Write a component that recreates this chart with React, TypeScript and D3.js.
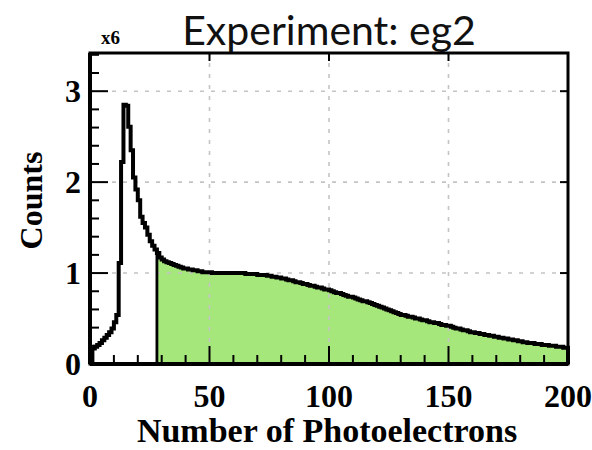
import React from "react";
import * as d3 from "d3";

// Histogram: bin i covers [i, i+1) photoelectrons, counts in units of 1e6
const counts: number[] = [
  0.0, 0.17, 0.19, 0.21, 0.23, 0.26, 0.29, 0.32, 0.35, 0.39,
  0.46, 0.54, 1.11, 2.22, 2.85, 2.84, 2.61, 2.35, 2.05, 1.92,
  1.8, 1.62, 1.55, 1.5, 1.42, 1.35, 1.3, 1.26, 1.22, 1.17,
  1.15, 1.13, 1.12, 1.11, 1.1, 1.09, 1.08, 1.07, 1.06, 1.05,
  1.05, 1.04, 1.04, 1.03, 1.03, 1.02, 1.02, 1.01, 1.01, 1.01,
  1.01, 1.0, 1.0, 1.0, 1.0, 1.0, 1.0, 1.0, 1.0, 1.0,
  1.0, 1.0, 1.0, 1.0, 1.0, 0.99, 0.99, 0.99, 0.99, 0.99,
  0.98, 0.98, 0.98, 0.98, 0.97, 0.97, 0.96, 0.96, 0.95, 0.95,
  0.94, 0.94, 0.93, 0.92, 0.92, 0.91, 0.9, 0.9, 0.89, 0.88,
  0.88, 0.87, 0.86, 0.86, 0.85, 0.84, 0.84, 0.83, 0.82, 0.82,
  0.81, 0.8, 0.79, 0.78, 0.78, 0.77, 0.76, 0.75, 0.74, 0.74,
  0.73, 0.72, 0.71, 0.7, 0.69, 0.69, 0.68, 0.67, 0.66, 0.65,
  0.64, 0.63, 0.62, 0.61, 0.6, 0.59, 0.58, 0.57, 0.56, 0.55,
  0.54, 0.54, 0.53, 0.52, 0.52, 0.51, 0.5, 0.5, 0.49, 0.48,
  0.48, 0.47, 0.46, 0.46, 0.45, 0.45, 0.44, 0.43, 0.43, 0.42,
  0.42, 0.41, 0.4, 0.39, 0.39, 0.38, 0.37, 0.37, 0.36, 0.35,
  0.35, 0.34, 0.34, 0.33, 0.33, 0.32, 0.32, 0.31, 0.31, 0.3,
  0.3, 0.29, 0.29, 0.28, 0.28, 0.27, 0.27, 0.26, 0.26, 0.25,
  0.25, 0.24, 0.24, 0.23, 0.23, 0.23, 0.22, 0.22, 0.22, 0.21,
  0.21, 0.21, 0.2, 0.2, 0.2, 0.19, 0.19, 0.19, 0.18, 0.18,
];
const binWidth = 1;
const cutStart = 28; // start of the shaded region
const xDomain: [number, number] = [0, 200];
const yDomain: [number, number] = [0, 3.42];
const xMajorTicks = [0, 50, 100, 150, 200];
const yMajorTicks = [0, 1, 2, 3];
const xGrid = [50, 100, 150];
const yGrid = [1, 2, 3];
const title = "Experiment: eg2";
const xTitle = "Number of Photoelectrons";
const yTitle = "Counts";
const exponentLabel = "x6";

const W = 592;
const H = 450;
const L = 90, R = 568, T = 53, B = 364;

export default function App() {
  const x = d3.scaleLinear().domain(xDomain).range([L, R]);
  const y = d3.scaleLinear().domain(yDomain).range([B, T]);

  const outline = d3.path();
  outline.moveTo(x(0), y(0));
  counts.forEach((v, i) => {
    outline.lineTo(x(i * binWidth), y(v));
    outline.lineTo(x((i + 1) * binWidth), y(v));
  });
  outline.lineTo(x(counts.length * binWidth), y(0));

  const fill = d3.path();
  fill.moveTo(x(cutStart), y(0));
  counts.forEach((v, i) => {
    if (i * binWidth < cutStart) return;
    fill.lineTo(x(i * binWidth), y(v));
    fill.lineTo(x((i + 1) * binWidth), y(v));
  });
  fill.lineTo(x(counts.length * binWidth), y(0));
  fill.closePath();

  const cutVal = counts[Math.floor(cutStart / binWidth)];

  const xMinor = d3.range(0, 201, 10).filter((t) => t % 50 !== 0);
  const yMinor = d3.range(0, 3.41, 0.2).filter((t) => Math.abs(t - Math.round(t)) > 1e-6);

  const serif = "'Liberation Serif', 'Times New Roman', serif";

  return (
    <svg width={W} height={H} style={{ position: "absolute", left: 0, top: 0, background: "#fff" }}>
      <rect x={0} y={0} width={W} height={H} fill="#fff" />
      <path d={fill.toString()} fill="#a6e77b" stroke="none" />
      {xGrid.map((t) => (
        <line key={"gx" + t} x1={x(t)} x2={x(t)} y1={B} y2={T} stroke="#c4c4c4" strokeWidth={1.6} strokeDasharray="4,7" />
      ))}
      {yGrid.map((t) => (
        <line key={"gy" + t} x1={L} x2={R} y1={y(t)} y2={y(t)} stroke="#c4c4c4" strokeWidth={1.6} strokeDasharray="4,7" />
      ))}
      <line x1={x(cutStart)} x2={x(cutStart)} y1={y(0)} y2={y(cutVal)} stroke="#000" strokeWidth={2.8} />
      <path d={outline.toString()} fill="none" stroke="#000" strokeWidth={4} strokeLinejoin="miter" />
      {xMajorTicks.map((t) => (
        <line key={"xM" + t} x1={x(t)} x2={x(t)} y1={B} y2={B - 18} stroke="#000" strokeWidth={2} />
      ))}
      {xMinor.map((t) => (
        <line key={"xm" + t} x1={x(t)} x2={x(t)} y1={B} y2={B - 9} stroke="#000" strokeWidth={2} />
      ))}
      {xGrid.map((t) => (
        <line key={"xt" + t} x1={x(t)} x2={x(t)} y1={T} y2={T + 8} stroke="#000" strokeWidth={2} />
      ))}
      {yMajorTicks.map((t) => (
        <line key={"yM" + t} x1={L} x2={L + 18} y1={y(t)} y2={y(t)} stroke="#000" strokeWidth={2} />
      ))}
      {yMinor.map((t) => (
        <line key={"ym" + t} x1={L} x2={L + 9} y1={y(t)} y2={y(t)} stroke="#000" strokeWidth={2} />
      ))}
      {yGrid.map((t) => (
        <line key={"yr" + t} x1={R} x2={R - 8} y1={y(t)} y2={y(t)} stroke="#000" strokeWidth={2} />
      ))}
      <rect x={L} y={T} width={R - L} height={B - T} fill="none" stroke="#000" strokeWidth={3} />
      <line x1={L} x2={L} y1={T} y2={B} stroke="#000" strokeWidth={4} />
      <line x1={L} x2={R} y1={B} y2={B} stroke="#000" strokeWidth={4} />
      {xMajorTicks.map((t) => (
        <text key={"xl" + t} x={x(t)} y={407} textAnchor="middle" fontFamily={serif} fontWeight="bold" fontSize={32} fill="#000">
          {t}
        </text>
      ))}
      {yMajorTicks.map((t) => (
        <text key={"yl" + t} x={81} y={y(t) + 11} textAnchor="end" fontFamily={serif} fontWeight="bold" fontSize={32} fill="#000">
          {t}
        </text>
      ))}
      <text x={(L + R) / 2 - 2} y={442} textAnchor="middle" fontFamily={serif} fontWeight="bold" fontSize={34} fill="#000">
        {xTitle}
      </text>
      <text transform={`translate(42, ${(T + B) / 2 - 8}) rotate(-90)`} textAnchor="middle" fontFamily={serif} fontWeight="bold" fontSize={32} fill="#000">
        {yTitle}
      </text>
      <text x={101} y={44} fontFamily={serif} fontWeight="bold" fontSize={19} fill="#000">
        {exponentLabel}
      </text>
      <text x={(L + R) / 2} y={45} textAnchor="middle" fontFamily="Lato, 'Open Sans', sans-serif" fontWeight={400} fontSize={41} fill="#111">
        {title}
      </text>
    </svg>
  );
}
